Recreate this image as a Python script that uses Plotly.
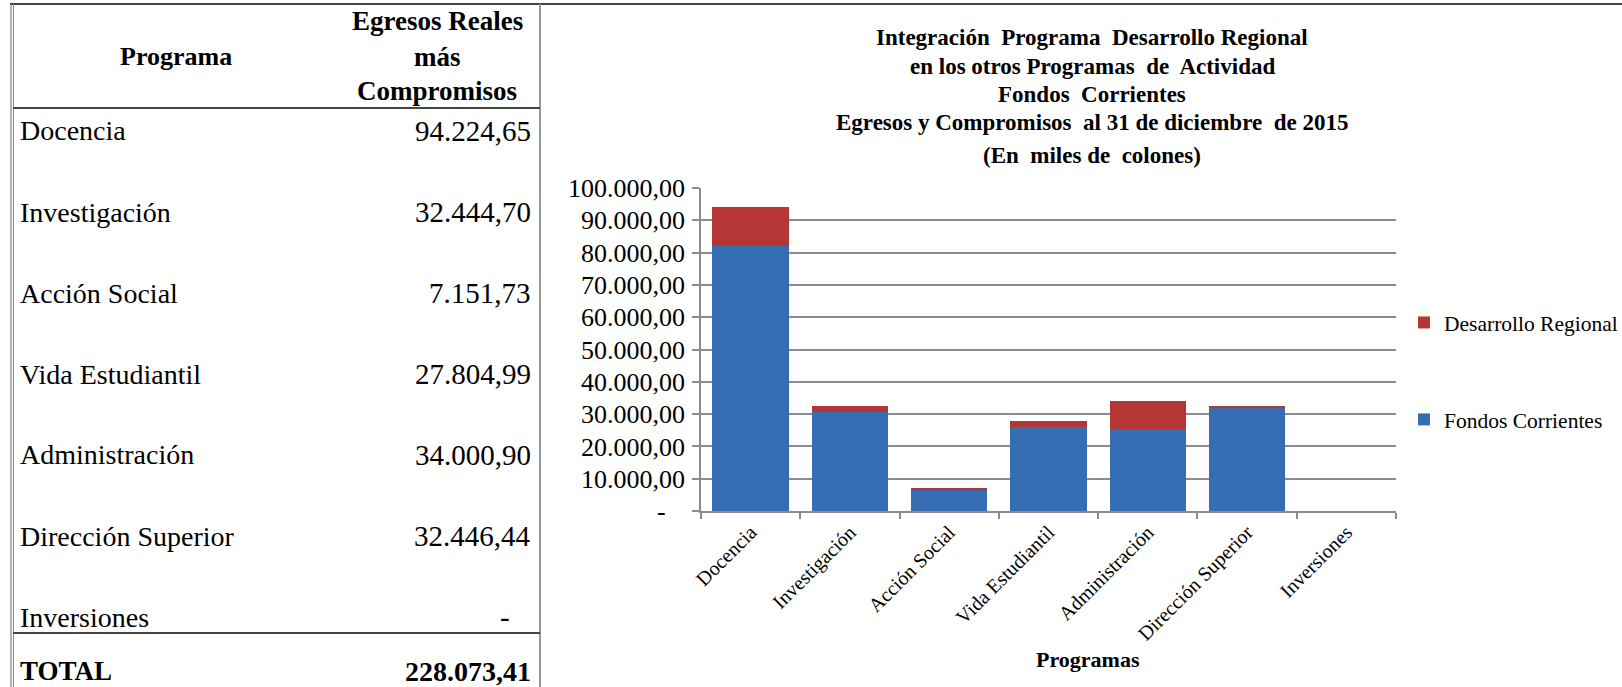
import plotly.graph_objects as go

# ---------------- data ----------------
programas = ["Docencia", "Investigación", "Acción Social", "Vida Estudiantil",
             "Administración", "Dirección Superior", "Inversiones"]
egresos_totales = [94224.65, 32444.70, 7151.73, 27804.99, 34000.90, 32446.44, 0.0]
fondos_corrientes = [82000.00, 30700.00, 6600.00, 26000.00, 25300.00, 32000.00, 0.0]
desarrollo_regional = [12224.65, 1744.70, 551.73, 1804.99, 8700.90, 446.44, 0.0]
y_tick_vals = [0, 10000, 20000, 30000, 40000, 50000, 60000, 70000, 80000, 90000, 100000]

title_lines = [
    "Integración  Programa  Desarrollo Regional",
    "en los otros Programas  de  Actividad",
    "Fondos  Corrientes",
    "Egresos y Compromisos  al 31 de diciembre  de 2015",
    "(En  miles de  colones)",
]

W, H = 1622, 687
FONT = "Liberation Serif"
NB = "\u00a0"


def fmt(v, pad=3):
    if v == 0:
        return "-" + NB * pad
    s = f"{v:,.2f}"
    return s.replace(",", "X").replace(".", ",").replace("X", ".")


def px(x):
    return x / W


def py(y):
    return 1 - y / H


y_tick_text = [fmt(v) for v in y_tick_vals]

fig = go.Figure()
fig.add_trace(go.Bar(x=programas, y=fondos_corrientes, name="Fondos Corrientes",
                     marker=dict(color="#376DB3", line=dict(width=0)),
                     legendgroup="fc", legendrank=2))
fig.add_trace(go.Bar(x=programas, y=desarrollo_regional, name="Desarrollo Regional",
                     marker=dict(color="#B53634", line=dict(width=0)),
                     legendgroup="dr", legendrank=1))

grid = "#8c8c8c"
fig.update_layout(
    width=W, height=H,
    margin=dict(l=0, r=0, t=0, b=0, pad=0, autoexpand=False),
    paper_bgcolor="white", plot_bgcolor="white",
    barmode="stack", bargap=0.23,
    font=dict(family=FONT, color="black"),
    xaxis=dict(domain=[px(701), px(1396)], type="category", automargin=False,
               showline=True, linecolor=grid, linewidth=1.5,
               ticks="outside", tickson="boundaries", ticklen=6, tickcolor=grid, tickwidth=1.5,
               tickangle=-45, tickfont=dict(family=FONT, size=20, color="black"),
               showgrid=False),
    yaxis=dict(domain=[py(511), py(188)], range=[0, 100000], automargin=False,
               tickvals=y_tick_vals, ticktext=y_tick_text,
               showline=True, linecolor=grid, linewidth=1.5,
               ticks="outside", ticklen=7, tickcolor=grid, tickwidth=1.5,
               showgrid=True, gridcolor=grid, gridwidth=1.5,
               zeroline=False, ticklabelstandoff=2,
               tickfont=dict(family=FONT, size=26, color="black")),
    legend=dict(x=px(1404), y=py(302), xanchor="left", yanchor="top",
                traceorder="grouped", tracegroupgap=66,
                font=dict(family=FONT, size=21.5, color="black"),
                bgcolor="rgba(0,0,0,0)"),
    showlegend=True,
)

ann = []
# chart title
title_y = [38, 66, 94, 122, 156]
for t, yy in zip(title_lines, title_y):
    ann.append(dict(text=f"<b>{t}</b>", x=px(1092), y=py(yy), xref="paper", yref="paper",
                    xanchor="center", yanchor="middle", showarrow=False,
                    font=dict(family=FONT, size=23, color="black")))
# x axis title
ann.append(dict(text="<b>Programas</b>", x=px(1088), y=py(659), xref="paper", yref="paper",
                xanchor="center", yanchor="middle", showarrow=False,
                font=dict(family=FONT, size=22, color="black")))

# table header
ann.append(dict(text="<b>Programa</b>", x=px(176), y=py(57), xref="paper", yref="paper",
                xanchor="center", yanchor="middle", showarrow=False,
                font=dict(family=FONT, size=26, color="black")))
for t, yy in zip(["Egresos Reales", "más", "Compromisos"], [21, 57, 91]):
    ann.append(dict(text=f"<b>{t}</b>", x=px(437), y=py(yy), xref="paper", yref="paper",
                    xanchor="center", yanchor="middle", showarrow=False,
                    font=dict(family=FONT, size=27, color="black")))
# table rows
row_y = [131, 212, 293, 374, 455, 536, 617]
for name, val, yy in zip(programas, egresos_totales, row_y):
    ann.append(dict(text=name, x=px(18), y=py(yy), xref="paper", yref="paper",
                    xanchor="left", yanchor="middle", showarrow=False,
                    font=dict(family=FONT, size=28, color="black")))
    ann.append(dict(text=fmt(val, 3), x=px(533), y=py(yy),
                    xref="paper", yref="paper",
                    xanchor="right", yanchor="middle", showarrow=False,
                    font=dict(family=FONT, size=29, color="black")))
total = sum(egresos_totales)
ann.append(dict(text="<b>TOTAL</b>", x=px(18), y=py(671), xref="paper", yref="paper",
                xanchor="left", yanchor="middle", showarrow=False,
                font=dict(family=FONT, size=27, color="black")))
ann.append(dict(text=f"<b>{fmt(total)}</b>", x=px(533), y=py(671), xref="paper", yref="paper",
                xanchor="right", yanchor="middle", showarrow=False,
                font=dict(family=FONT, size=28, color="black")))
fig.update_layout(annotations=ann)

shapes = []


def hline(x0, x1, y, color, width):
    shapes.append(dict(type="line", xref="paper", yref="paper", x0=px(x0), x1=px(x1),
                       y0=py(y), y1=py(y), line=dict(color=color, width=width)))


def vline(x, y0, y1, color, width):
    shapes.append(dict(type="line", xref="paper", yref="paper", x0=px(x), x1=px(x),
                       y0=py(y0), y1=py(y1), line=dict(color=color, width=width)))


hline(10, W, 4, "#444444", 2)
vline(11, 4, H, "#666666", 1)
vline(13.5, 4, H, "#888888", 1)
vline(540, 4, H, "#999999", 2)
hline(13, 540, 108, "#444444", 2)
hline(13, 540, 633, "#444444", 2)
fig.update_layout(shapes=shapes)

fig.write_html(
    "out.html",
    config={"displayModeBar": False},
    post_script="document.body.style.margin='0';document.documentElement.style.overflow='hidden';",
)
